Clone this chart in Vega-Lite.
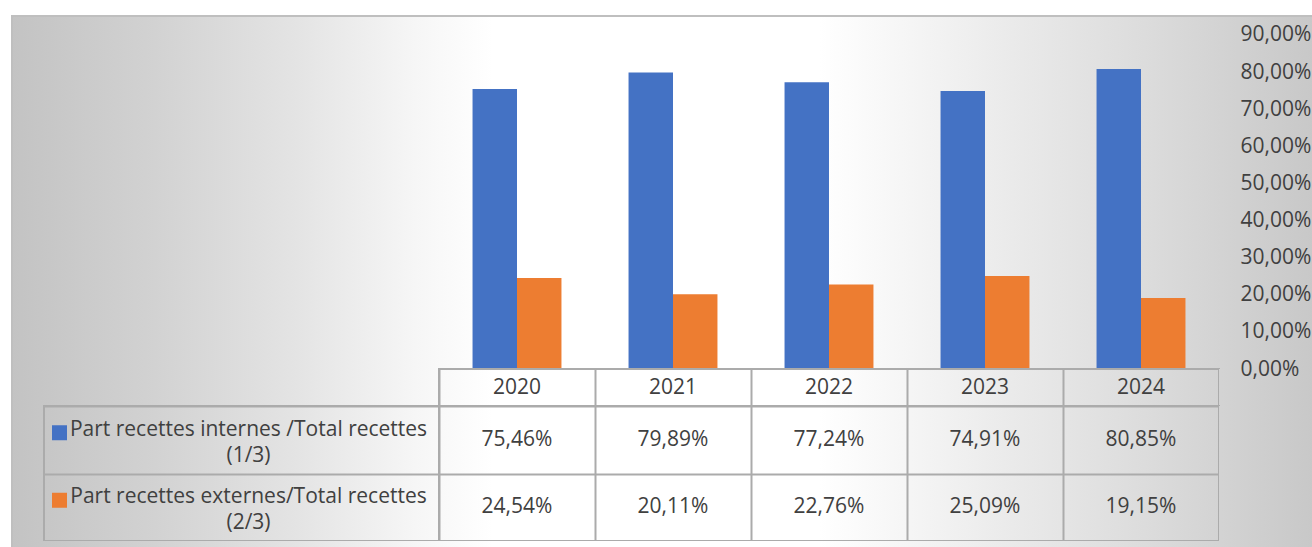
{
  "$schema": "https://vega.github.io/schema/vega-lite/v6.json",
  "padding": {"left": 9, "top": 13, "right": 0, "bottom": 0},
  "background": "white",
  "config": {
    "font": "Open Sans",
    "view": {"stroke": null},
    "locale": {"number": {"decimal": ",", "thousands": " ", "grouping": [3], "currency": ["", " €"]}},
    "axis": {"title": null}
  },
  "datasets": {
    "main": [
      {"year": "2020", "series": "Part recettes internes /Total recettes\n(1/3)", "value": 0.7546},
      {"year": "2020", "series": "Part recettes externes/Total recettes\n(2/3)", "value": 0.2454},
      {"year": "2021", "series": "Part recettes internes /Total recettes\n(1/3)", "value": 0.7989},
      {"year": "2021", "series": "Part recettes externes/Total recettes\n(2/3)", "value": 0.2011},
      {"year": "2022", "series": "Part recettes internes /Total recettes\n(1/3)", "value": 0.7724},
      {"year": "2022", "series": "Part recettes externes/Total recettes\n(2/3)", "value": 0.2276},
      {"year": "2023", "series": "Part recettes internes /Total recettes\n(1/3)", "value": 0.7491},
      {"year": "2023", "series": "Part recettes externes/Total recettes\n(2/3)", "value": 0.2509},
      {"year": "2024", "series": "Part recettes internes /Total recettes\n(1/3)", "value": 0.8085},
      {"year": "2024", "series": "Part recettes externes/Total recettes\n(2/3)", "value": 0.1915}
    ],
    "blank": [{}]
  },
  "columns": 5,
  "spacing": 0,
  "bounds": "flush",
  "align": "each",
  "concat": [
    {"width": 2, "height": 2, "data": {"name": "blank"}, "mark": {"type": "point", "opacity": 0}, "encoding": {}, "view": {"fill": "#bfbfbf", "stroke": null}},
    {"width": 31, "height": 2, "data": {"name": "blank"}, "mark": {"type": "point", "opacity": 0}, "encoding": {}, "view": {"fill": "#bfbfbf", "stroke": null}},
    {"width": 395, "height": 2, "data": {"name": "blank"}, "mark": {"type": "point", "opacity": 0}, "encoding": {}, "view": {"fill": "#bfbfbf", "stroke": null}},
    {"width": 780, "height": 2, "data": {"name": "blank"}, "mark": {"type": "point", "opacity": 0}, "encoding": {}, "view": {"fill": "#bfbfbf", "stroke": null}},
    {"width": 95, "height": 2, "data": {"name": "blank"}, "mark": {"type": "point", "opacity": 0}, "encoding": {}, "view": {"fill": "#bfbfbf", "stroke": null}},

    {"width": 2, "height": 352, "data": {"name": "blank"}, "mark": {"type": "point", "opacity": 0}, "encoding": {}, "view": {"fill": "#bfbfbf", "stroke": null}},
    {"width": 31, "height": 352, "data": {"name": "blank"}, "mark": {"type": "point", "opacity": 0}, "encoding": {},
      "view": {"stroke": null, "fill": {"gradient": "linear", "x1": -0.0645, "y1": 0, "x2": 41.968, "y2": 0, "stops": [{"offset": 0, "color": "#c3c3c3"}, {"offset": 0.11, "color": "#d2d2d2"}, {"offset": 0.22, "color": "#e4e4e4"}, {"offset": 0.31, "color": "#f6f6f6"}, {"offset": 0.37, "color": "#ffffff"}, {"offset": 0.62, "color": "#ffffff"}, {"offset": 0.74, "color": "#eeeeee"}, {"offset": 0.87, "color": "#dcdcdc"}, {"offset": 1, "color": "#c8c8c8"}]}}},
    {"width": 395, "height": 352, "data": {"name": "blank"}, "mark": {"type": "point", "opacity": 0}, "encoding": {},
      "view": {"stroke": null, "fill": {"gradient": "linear", "x1": -0.0835, "y1": 0, "x2": 3.2152, "y2": 0, "stops": [{"offset": 0, "color": "#c3c3c3"}, {"offset": 0.11, "color": "#d2d2d2"}, {"offset": 0.22, "color": "#e4e4e4"}, {"offset": 0.31, "color": "#f6f6f6"}, {"offset": 0.37, "color": "#ffffff"}, {"offset": 0.62, "color": "#ffffff"}, {"offset": 0.74, "color": "#eeeeee"}, {"offset": 0.87, "color": "#dcdcdc"}, {"offset": 1, "color": "#c8c8c8"}]}}},
    {
      "width": 780, "height": 352,
      "data": {"name": "main"},
      "mark": {"type": "bar"},
      "encoding": {
        "x": {"field": "year", "type": "nominal", "axis": null, "scale": {"paddingInner": 0.43, "paddingOuter": 0.215}},
        "xOffset": {"field": "series", "type": "nominal", "scale": {"domain": ["Part recettes internes /Total recettes\n(1/3)", "Part recettes externes/Total recettes\n(2/3)"], "paddingInner": 0, "paddingOuter": 0}},
        "y": {"field": "value", "type": "quantitative", "axis": null, "scale": {"domain": [0, 0.9485], "nice": false}},
        "color": {"field": "series", "type": "nominal", "legend": null, "scale": {"domain": ["Part recettes internes /Total recettes\n(1/3)", "Part recettes externes/Total recettes\n(2/3)"], "range": ["#4472C4", "#ED7D31"]}}
      },
      "view": {"stroke": null, "fill": {"gradient": "linear", "x1": -0.5487, "y1": 0, "x2": 1.1218, "y2": 0, "stops": [{"offset": 0, "color": "#c3c3c3"}, {"offset": 0.11, "color": "#d2d2d2"}, {"offset": 0.22, "color": "#e4e4e4"}, {"offset": 0.31, "color": "#f6f6f6"}, {"offset": 0.37, "color": "#ffffff"}, {"offset": 0.62, "color": "#ffffff"}, {"offset": 0.74, "color": "#eeeeee"}, {"offset": 0.87, "color": "#dcdcdc"}, {"offset": 1, "color": "#c8c8c8"}]}}
    },
    {
      "width": 95, "height": 352,
      "data": {"name": "main"},
      "mark": {"type": "point", "opacity": 0},
      "encoding": {
        "y": {"field": "value", "type": "quantitative", "scale": {"domain": [0, 0.9485], "nice": false},
          "axis": {"orient": "left", "values": [0.1, 0.2, 0.3, 0.4, 0.5, 0.6, 0.7, 0.8, 0.9], "format": ".2%", "labelAlign": "left", "labelBaseline": "middle", "labelPadding": -21, "ticks": false, "domain": false, "grid": false, "labelFontSize": 21, "labelColor": "#404040", "labelFont": "Open Sans", "labelOverlap": false, "labelFlush": false, "labelBound": false}}
      },
      "view": {"stroke": null, "fill": {"gradient": "linear", "x1": -12.716, "y1": 0, "x2": 1, "y2": 0, "stops": [{"offset": 0, "color": "#c3c3c3"}, {"offset": 0.11, "color": "#d2d2d2"}, {"offset": 0.22, "color": "#e4e4e4"}, {"offset": 0.31, "color": "#f6f6f6"}, {"offset": 0.37, "color": "#ffffff"}, {"offset": 0.62, "color": "#ffffff"}, {"offset": 0.74, "color": "#eeeeee"}, {"offset": 0.87, "color": "#dcdcdc"}, {"offset": 1, "color": "#c8c8c8"}]}}
    },

    {"width": 2, "height": 37, "data": {"name": "blank"}, "mark": {"type": "point", "opacity": 0}, "encoding": {}, "view": {"fill": "#bfbfbf", "stroke": null}},
    {"width": 31, "height": 37, "data": {"name": "blank"}, "mark": {"type": "point", "opacity": 0}, "encoding": {},
      "view": {"stroke": null, "fill": {"gradient": "linear", "x1": -0.0645, "y1": 0, "x2": 41.968, "y2": 0, "stops": [{"offset": 0, "color": "#c3c3c3"}, {"offset": 0.11, "color": "#d2d2d2"}, {"offset": 0.22, "color": "#e4e4e4"}, {"offset": 0.31, "color": "#f6f6f6"}, {"offset": 0.37, "color": "#ffffff"}, {"offset": 0.62, "color": "#ffffff"}, {"offset": 0.74, "color": "#eeeeee"}, {"offset": 0.87, "color": "#dcdcdc"}, {"offset": 1, "color": "#c8c8c8"}]}}},
    {"width": 395, "height": 37, "data": {"name": "blank"}, "mark": {"type": "point", "opacity": 0}, "encoding": {},
      "view": {"stroke": null, "fill": {"gradient": "linear", "x1": -0.0835, "y1": 0, "x2": 3.2152, "y2": 0, "stops": [{"offset": 0, "color": "#c3c3c3"}, {"offset": 0.11, "color": "#d2d2d2"}, {"offset": 0.22, "color": "#e4e4e4"}, {"offset": 0.31, "color": "#f6f6f6"}, {"offset": 0.37, "color": "#ffffff"}, {"offset": 0.62, "color": "#ffffff"}, {"offset": 0.74, "color": "#eeeeee"}, {"offset": 0.87, "color": "#dcdcdc"}, {"offset": 1, "color": "#c8c8c8"}]}}},
    {
      "width": 780, "height": 37,
      "data": {"name": "main"},
      "transform": [{"aggregate": [{"op": "count", "as": "n"}], "groupby": ["year"]}],
      "mark": {"type": "text", "fontSize": 21, "color": "#404040", "font": "Open Sans"},
      "encoding": {
        "x": {"field": "year", "type": "nominal", "scale": {"paddingInner": 0, "paddingOuter": 0},
          "axis": {"labels": false, "ticks": false, "domain": false, "grid": true, "gridColor": "#ababab", "gridWidth": 2, "tickBand": "extent"}},
        "text": {"field": "year", "type": "nominal"}
      },
      "view": {"stroke": "#ababab", "strokeWidth": 2, "fill": {"gradient": "linear", "x1": -0.5487, "y1": 0, "x2": 1.1218, "y2": 0, "stops": [{"offset": 0, "color": "#c3c3c3"}, {"offset": 0.11, "color": "#d2d2d2"}, {"offset": 0.22, "color": "#e4e4e4"}, {"offset": 0.31, "color": "#f6f6f6"}, {"offset": 0.37, "color": "#ffffff"}, {"offset": 0.62, "color": "#ffffff"}, {"offset": 0.74, "color": "#eeeeee"}, {"offset": 0.87, "color": "#dcdcdc"}, {"offset": 1, "color": "#c8c8c8"}]}}
    },
    {
      "width": 95, "height": 37,
      "data": {"name": "main"},
      "mark": {"type": "point", "opacity": 0},
      "encoding": {
        "y": {"field": "value", "type": "quantitative", "scale": {"domain": [-0.0997, 0], "nice": false, "zero": false},
          "axis": {"orient": "left", "values": [0], "format": ".2%", "labelAlign": "left", "labelBaseline": "middle", "labelPadding": -21, "ticks": false, "domain": false, "grid": false, "labelFontSize": 21, "labelColor": "#404040", "labelFont": "Open Sans", "labelOverlap": false, "labelFlush": false, "labelBound": false}}
      },
      "view": {"stroke": null, "fill": {"gradient": "linear", "x1": -12.716, "y1": 0, "x2": 1, "y2": 0, "stops": [{"offset": 0, "color": "#c3c3c3"}, {"offset": 0.11, "color": "#d2d2d2"}, {"offset": 0.22, "color": "#e4e4e4"}, {"offset": 0.31, "color": "#f6f6f6"}, {"offset": 0.37, "color": "#ffffff"}, {"offset": 0.62, "color": "#ffffff"}, {"offset": 0.74, "color": "#eeeeee"}, {"offset": 0.87, "color": "#dcdcdc"}, {"offset": 1, "color": "#c8c8c8"}]}}
    },

    {"width": 2, "height": 135, "data": {"name": "blank"}, "mark": {"type": "point", "opacity": 0}, "encoding": {}, "view": {"fill": "#bfbfbf", "stroke": null}},
    {"width": 31, "height": 135, "data": {"name": "blank"}, "mark": {"type": "point", "opacity": 0}, "encoding": {},
      "view": {"stroke": null, "fill": {"gradient": "linear", "x1": -0.0645, "y1": 0, "x2": 41.968, "y2": 0, "stops": [{"offset": 0, "color": "#c3c3c3"}, {"offset": 0.11, "color": "#d2d2d2"}, {"offset": 0.22, "color": "#e4e4e4"}, {"offset": 0.31, "color": "#f6f6f6"}, {"offset": 0.37, "color": "#ffffff"}, {"offset": 0.62, "color": "#ffffff"}, {"offset": 0.74, "color": "#eeeeee"}, {"offset": 0.87, "color": "#dcdcdc"}, {"offset": 1, "color": "#c8c8c8"}]}}},
    {
      "width": 395, "height": 135,
      "data": {"name": "main"},
      "transform": [{"aggregate": [{"op": "count", "as": "n"}], "groupby": ["series"]}],
      "encoding": {
        "y": {"field": "series", "type": "nominal", "scale": {"domain": ["Part recettes internes /Total recettes\n(1/3)", "Part recettes externes/Total recettes\n(2/3)"], "paddingInner": 0, "paddingOuter": 0},
          "axis": {"labels": false, "ticks": false, "domain": false, "grid": true, "gridColor": "#ababab", "gridWidth": 2, "tickBand": "extent"}}
      },
      "layer": [
        {
          "mark": {"type": "text", "fontSize": 21, "color": "#404040", "font": "Open Sans", "lineBreak": "\n", "lineHeight": 26, "dx": 7, "dy": -10},
          "encoding": {"text": {"field": "series", "type": "nominal"}}
        },
        {
          "mark": {"type": "point", "shape": "square", "filled": true, "size": 225, "opacity": 1, "strokeWidth": 0, "xOffset": -182, "yOffset": -7},
          "encoding": {"color": {"field": "series", "type": "nominal", "legend": null, "scale": {"domain": ["Part recettes internes /Total recettes\n(1/3)", "Part recettes externes/Total recettes\n(2/3)"], "range": ["#4472C4", "#ED7D31"]}}}
        }
      ],
      "view": {"stroke": "#ababab", "strokeWidth": 2, "fill": {"gradient": "linear", "x1": -0.0835, "y1": 0, "x2": 3.2152, "y2": 0, "stops": [{"offset": 0, "color": "#c3c3c3"}, {"offset": 0.11, "color": "#d2d2d2"}, {"offset": 0.22, "color": "#e4e4e4"}, {"offset": 0.31, "color": "#f6f6f6"}, {"offset": 0.37, "color": "#ffffff"}, {"offset": 0.62, "color": "#ffffff"}, {"offset": 0.74, "color": "#eeeeee"}, {"offset": 0.87, "color": "#dcdcdc"}, {"offset": 1, "color": "#c8c8c8"}]}}
    },
    {
      "width": 780, "height": 135,
      "data": {"name": "main"},
      "mark": {"type": "text", "fontSize": 21, "color": "#404040", "font": "Open Sans"},
      "encoding": {
        "x": {"field": "year", "type": "nominal", "scale": {"paddingInner": 0, "paddingOuter": 0},
          "axis": {"labels": false, "ticks": false, "domain": false, "grid": true, "gridColor": "#ababab", "gridWidth": 2, "tickBand": "extent"}},
        "y": {"field": "series", "type": "nominal", "scale": {"domain": ["Part recettes internes /Total recettes\n(1/3)", "Part recettes externes/Total recettes\n(2/3)"], "paddingInner": 0, "paddingOuter": 0},
          "axis": {"labels": false, "ticks": false, "domain": false, "grid": true, "gridColor": "#ababab", "gridWidth": 2, "tickBand": "extent"}},
        "text": {"field": "value", "type": "quantitative", "format": ".2%"}
      },
      "view": {"stroke": "#ababab", "strokeWidth": 2, "fill": {"gradient": "linear", "x1": -0.5487, "y1": 0, "x2": 1.1218, "y2": 0, "stops": [{"offset": 0, "color": "#c3c3c3"}, {"offset": 0.11, "color": "#d2d2d2"}, {"offset": 0.22, "color": "#e4e4e4"}, {"offset": 0.31, "color": "#f6f6f6"}, {"offset": 0.37, "color": "#ffffff"}, {"offset": 0.62, "color": "#ffffff"}, {"offset": 0.74, "color": "#eeeeee"}, {"offset": 0.87, "color": "#dcdcdc"}, {"offset": 1, "color": "#c8c8c8"}]}}
    },
    {"width": 95, "height": 135, "data": {"name": "blank"}, "mark": {"type": "point", "opacity": 0}, "encoding": {},
      "view": {"stroke": null, "fill": {"gradient": "linear", "x1": -12.716, "y1": 0, "x2": 1, "y2": 0, "stops": [{"offset": 0, "color": "#c3c3c3"}, {"offset": 0.11, "color": "#d2d2d2"}, {"offset": 0.22, "color": "#e4e4e4"}, {"offset": 0.31, "color": "#f6f6f6"}, {"offset": 0.37, "color": "#ffffff"}, {"offset": 0.62, "color": "#ffffff"}, {"offset": 0.74, "color": "#eeeeee"}, {"offset": 0.87, "color": "#dcdcdc"}, {"offset": 1, "color": "#c8c8c8"}]}}},

    {"width": 2, "height": 8, "data": {"name": "blank"}, "mark": {"type": "point", "opacity": 0}, "encoding": {}, "view": {"fill": "#bfbfbf", "stroke": null}},
    {"width": 31, "height": 8, "data": {"name": "blank"}, "mark": {"type": "point", "opacity": 0}, "encoding": {},
      "view": {"stroke": null, "fill": {"gradient": "linear", "x1": -0.0645, "y1": 0, "x2": 41.968, "y2": 0, "stops": [{"offset": 0, "color": "#c3c3c3"}, {"offset": 0.11, "color": "#d2d2d2"}, {"offset": 0.22, "color": "#e4e4e4"}, {"offset": 0.31, "color": "#f6f6f6"}, {"offset": 0.37, "color": "#ffffff"}, {"offset": 0.62, "color": "#ffffff"}, {"offset": 0.74, "color": "#eeeeee"}, {"offset": 0.87, "color": "#dcdcdc"}, {"offset": 1, "color": "#c8c8c8"}]}}},
    {"width": 395, "height": 8, "data": {"name": "blank"}, "mark": {"type": "point", "opacity": 0}, "encoding": {},
      "view": {"stroke": null, "fill": {"gradient": "linear", "x1": -0.0835, "y1": 0, "x2": 3.2152, "y2": 0, "stops": [{"offset": 0, "color": "#c3c3c3"}, {"offset": 0.11, "color": "#d2d2d2"}, {"offset": 0.22, "color": "#e4e4e4"}, {"offset": 0.31, "color": "#f6f6f6"}, {"offset": 0.37, "color": "#ffffff"}, {"offset": 0.62, "color": "#ffffff"}, {"offset": 0.74, "color": "#eeeeee"}, {"offset": 0.87, "color": "#dcdcdc"}, {"offset": 1, "color": "#c8c8c8"}]}}},
    {"width": 780, "height": 8, "data": {"name": "blank"}, "mark": {"type": "point", "opacity": 0}, "encoding": {},
      "view": {"stroke": null, "fill": {"gradient": "linear", "x1": -0.5487, "y1": 0, "x2": 1.1218, "y2": 0, "stops": [{"offset": 0, "color": "#c3c3c3"}, {"offset": 0.11, "color": "#d2d2d2"}, {"offset": 0.22, "color": "#e4e4e4"}, {"offset": 0.31, "color": "#f6f6f6"}, {"offset": 0.37, "color": "#ffffff"}, {"offset": 0.62, "color": "#ffffff"}, {"offset": 0.74, "color": "#eeeeee"}, {"offset": 0.87, "color": "#dcdcdc"}, {"offset": 1, "color": "#c8c8c8"}]}}},
    {"width": 95, "height": 8, "data": {"name": "blank"}, "mark": {"type": "point", "opacity": 0}, "encoding": {},
      "view": {"stroke": null, "fill": {"gradient": "linear", "x1": -12.716, "y1": 0, "x2": 1, "y2": 0, "stops": [{"offset": 0, "color": "#c3c3c3"}, {"offset": 0.11, "color": "#d2d2d2"}, {"offset": 0.22, "color": "#e4e4e4"}, {"offset": 0.31, "color": "#f6f6f6"}, {"offset": 0.37, "color": "#ffffff"}, {"offset": 0.62, "color": "#ffffff"}, {"offset": 0.74, "color": "#eeeeee"}, {"offset": 0.87, "color": "#dcdcdc"}, {"offset": 1, "color": "#c8c8c8"}]}}}
  ]
}
